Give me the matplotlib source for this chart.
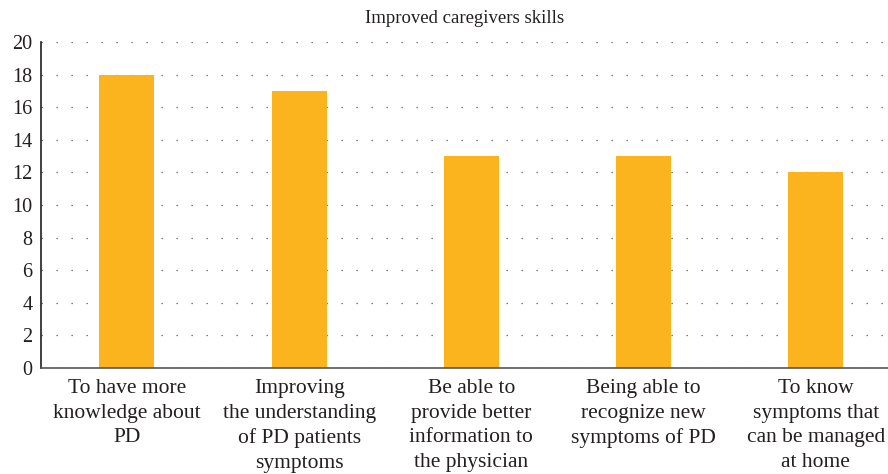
import matplotlib
matplotlib.use("Agg")
import matplotlib.pyplot as plt

categories = [
    "To have more\nknowledge about\nPD",
    "Improving\nthe understanding\nof PD patients\nsymptoms",
    "Be able to\nprovide better\ninformation to\nthe physician",
    "Being able to\nrecognize new\nsymptoms of PD",
    "To know\nsymptoms that\ncan be managed\nat home",
]
counts = [18, 17, 13, 13, 12]
y_ticks = list(range(0, 21, 2))

plt.rcParams["font.family"] = ["Liberation Serif", "DejaVu Serif"]

fig = plt.figure(figsize=(8.88, 4.74), dpi=100)
ax = fig.add_axes([0.046, 0.224, 0.954, 0.687])

x = list(range(len(categories)))
ax.bar(x, counts, width=0.32, color="#FBB41E", zorder=2)

ax.set_xlim(-0.5, 4.42)
ax.set_ylim(0, 20)
ax.set_yticks(y_ticks)
ax.set_xticks(x)
ax.set_xticklabels(categories, fontsize=15.5, linespacing=1.4, color="#231f20")
ax.tick_params(axis="y", labelsize=14.5, length=0, pad=6, labelcolor="#231f20")
ax.tick_params(axis="x", length=0, pad=8)

ax.yaxis.grid(True, linestyle=(0, (1, 11)), color="#555555", linewidth=0.9, zorder=0)
ax.set_axisbelow(True)

for side in ["top", "right"]:
    ax.spines[side].set_visible(False)
ax.spines["left"].set_color("#231f20")
ax.spines["left"].set_linewidth(1.2)
ax.spines["bottom"].set_color("#555555")
ax.spines["bottom"].set_linewidth(1.2)

ax.set_title("Improved caregivers skills", fontsize=13.5, pad=14, color="#231f20")

fig.savefig("out.png", dpi=100)
